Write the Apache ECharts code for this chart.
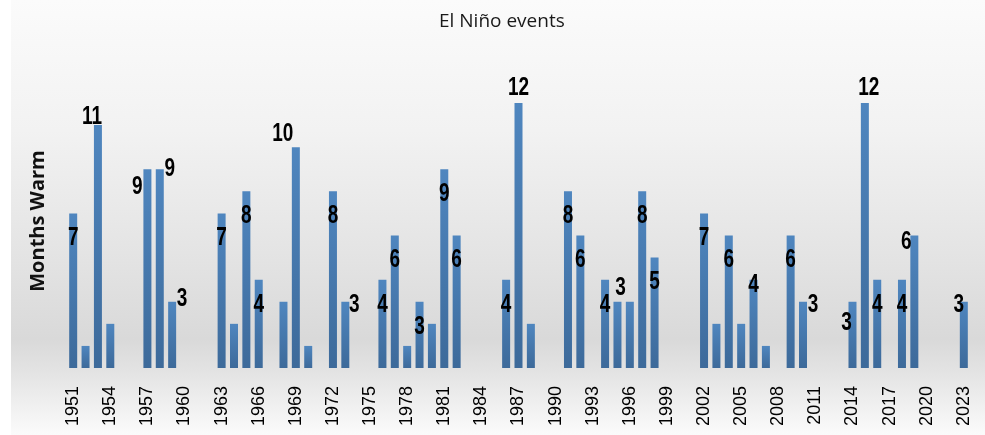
<!DOCTYPE html>
<html>
<head>
<meta charset="utf-8">
<script src="https://cdn.jsdelivr.net/npm/echarts@6/dist/echarts.min.js"></script>
<style>html,body{margin:0;padding:0;background:#fff}#c{width:985px;height:435px}</style>
</head>
<body>
<div id="c"></div>
<script>
const years = ['1951','1952','1953','1954','1955','1956','1957','1958','1959','1960',
  '1961','1962','1963','1964','1965','1966','1967','1968','1969','1970',
  '1971','1972','1973','1974','1975','1976','1977','1978','1979','1980',
  '1981','1982','1983','1984','1985','1986','1987','1988','1989','1990',
  '1991','1992','1993','1994','1995','1996','1997','1998','1999','2000',
  '2001','2002','2003','2004','2005','2006','2007','2008','2009','2010',
  '2011','2012','2013','2014','2015','2016','2017','2018','2019','2020',
  '2021','2022','2023'];
const monthsWarm = [7,1,11,2,null,null,9,9,3,null,
  null,null,7,2,8,4,null,3,10,1,
  null,8,3,null,null,4,6,1,3,2,
  9,6,null,null,null,4,12,2,null,null,
  8,6,null,4,3,3,8,5,null,null,
  null,7,2,6,2,4,1,null,6,3,
  null,null,null,3,12,4,null,4,6,null,
  null,null,3];
const labeledYears = ['1951','1953','1957','1958','1959','1963','1965','1966','1969','1972','1973',
  '1976','1977','1979','1981','1982','1986','1987','1991','1992','1994','1995','1997','1998',
  '2002','2004','2006','2009','2010','2014','2015','2016','2018','2019','2023'];
const chartTitle = 'El Niño events';
const yAxisName = 'Months Warm';

// label placement (style only): [dx from bar centre, dy from bar top]
const defaultLabelShift = [0, 25];
const labelShift = {
  '1953': [-6, -8], '1957': [-10, 18], '1958': [10, 0], '1959': [10, -3],
  '1969': [-13, -13], '1973': [9, 3], '1987': [0, -15], '1995': [3, -14],
  '2006': [0, 5], '2010': [10, 3], '2014': [-6, 21], '2015': [4, -15],
  '2019': [-8, 7], '2023': [-5, 3]
};

const barData = monthsWarm.map(function (v) { return v === null ? '-' : v; });
const labelData = labeledYears.map(function (y) {
  const i = years.indexOf(y);
  return [i, monthsWarm[i]];
});

const chart = echarts.init(document.getElementById('c'), null, { renderer: 'canvas' });
chart.setOption({
  animation: false,
  backgroundColor: '#ffffff',
  title: {
    text: chartTitle, left: 434, top: 7,
    textStyle: { fontFamily: 'Open Sans', fontSize: 19, fontWeight: 'normal', color: '#1a1a1a' }
  },
  graphic: [
    {
      type: 'rect', z: -100, silent: true,
      shape: { x: 11, y: 0, width: 974, height: 435 },
      style: {
        fill: new echarts.graphic.LinearGradient(0, 0, 0, 1, [
          { offset: 0, color: '#fbfbfb' },
          { offset: 0.3, color: '#f2f2f2' },
          { offset: 0.6, color: '#e3e3e3' },
          { offset: 0.78, color: '#d9d9d9' },
          { offset: 0.86, color: '#e4e4e4' },
          { offset: 1, color: '#fbfbfb' }
        ])
      }
    },
    {
      type: 'text', z: 10, silent: true,
      x: 38, y: 221, rotation: Math.PI / 2,
      style: {
        text: yAxisName, fill: '#111', font: 'bold 20px "Open Sans"',
        align: 'center', verticalAlign: 'middle'
      }
    }
  ],
  grid: { left: 67, right: 15, top: 103, bottom: 67 },
  xAxis: {
    type: 'category', data: years,
    axisLine: { show: false }, axisTick: { show: false },
    axisLabel: {
      interval: 2, rotate: 90, margin: 18,
      fontFamily: 'Liberation Sans', fontSize: 18, color: '#000'
    }
  },
  yAxis: {
    type: 'value', min: 0, max: 12,
    show: false, splitLine: { show: false }
  },
  series: [
    {
      type: 'bar', data: barData, barWidth: 8,
      itemStyle: {
        color: new echarts.graphic.LinearGradient(0, 0, 0, 1, [
          { offset: 0, color: '#4f86bf' },
          { offset: 1, color: '#3d6a9a' }
        ])
      }
    },
    {
      type: 'custom', data: labelData, clip: false, z: 5, silent: true,
      encode: { x: 0, y: 1 },
      renderItem: function (params, api) {
        const idx = api.value(0);
        const val = api.value(1);
        const p = api.coord([idx, val]);
        const s = labelShift[years[idx]] || defaultLabelShift;
        return {
          type: 'text',
          x: p[0] + s[0], y: p[1] + s[1],
          scaleX: 0.76,
          style: {
            text: String(val), fill: '#000',
            font: 'bold 25px "Liberation Sans"',
            align: 'center', verticalAlign: 'middle'
          }
        };
      }
    }
  ]
});
</script>
</body>
</html>
